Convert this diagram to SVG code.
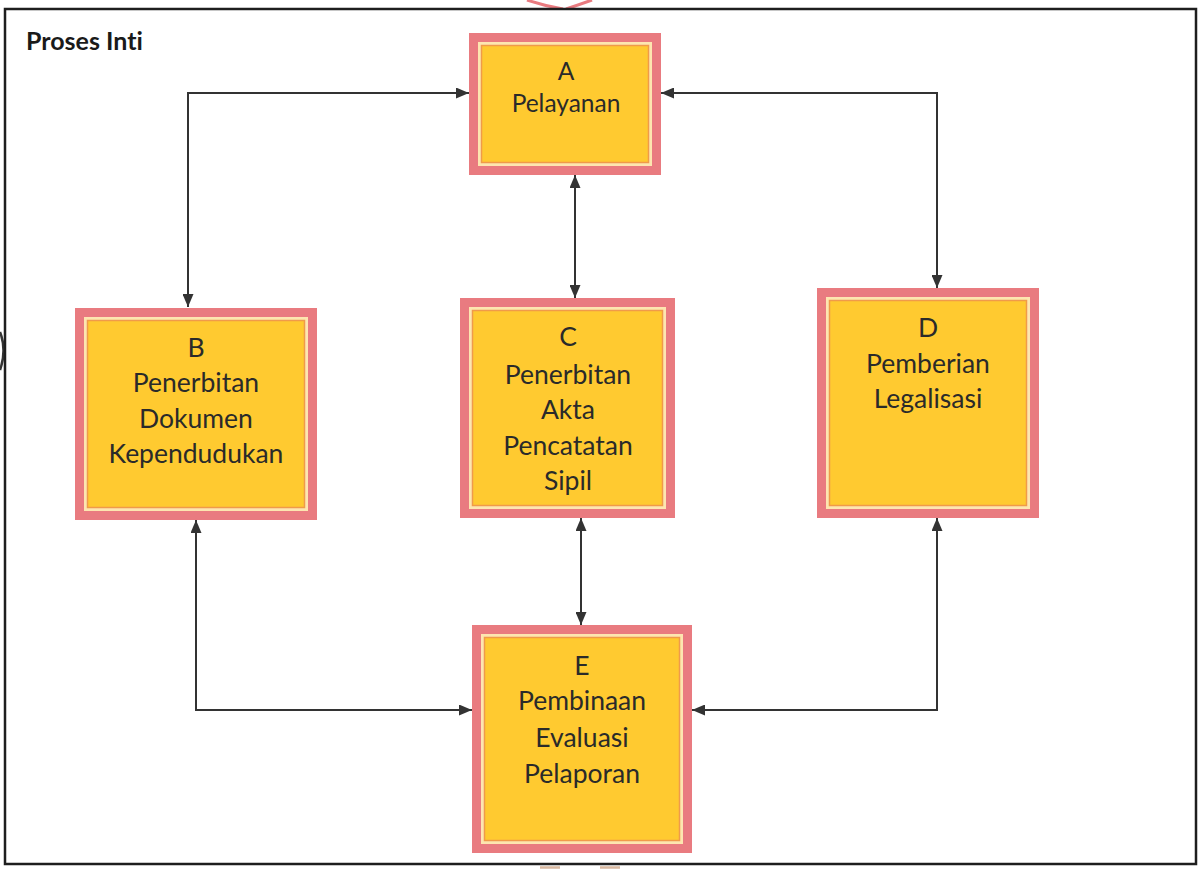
<svg xmlns="http://www.w3.org/2000/svg" width="1202" height="870" viewBox="0 0 1202 870">
  <defs>
    <marker id="arr" viewBox="0 0 13 11" refX="13" refY="5.5" markerWidth="13" markerHeight="11" markerUnits="userSpaceOnUse" orient="auto-start-reverse">
      <path d="M0,0 L13,5.5 L0,11 Z" fill="#333333"/>
    </marker>
  </defs>
  <style>
    .frame { fill: #ffffff; stroke: #1e1e1e; stroke-width: 2.5; }
    .title { font-family: Lato, "Liberation Sans", sans-serif; font-weight: bold; font-size: 25px; fill: #1a1a1a; font-variant-ligatures: none; }
    .outer { fill: #e97b80; }
    .cream { fill: #fde6b0; }
    .line { fill: none; stroke: #f09a4a; stroke-width: 1.5; }
    .fill { fill: #ffca30; }
    .label { font-family: Lato, "Liberation Sans", sans-serif; font-size: 26.5px; fill: #2a2a2a; text-anchor: middle; font-variant-ligatures: none; }
    .small { font-size: 24.5px; }
    .conn { fill: none; stroke: #333333; stroke-width: 2; marker-start: url(#arr); marker-end: url(#arr); }
    .deco { fill: none; stroke: #e97b80; stroke-width: 3; }
  </style>

  <!-- partial shapes around the frame edge -->
  <path class="deco" d="M527,0 Q545,6 563,9 M592,0 Q578,5 566,9"/>
  <path d="M0,332 Q7,350 0,370" fill="none" stroke="#333" stroke-width="2.5"/>
  <path d="M540,867.5 L560,867.5 M600,867.5 L620,867.5" stroke="#d8b8a0" stroke-width="2.5"/>

  <rect class="frame" x="5" y="9" width="1191" height="855"/>
  <text class="title" x="26" y="50">Proses Inti</text>

  <g id="connectors">
    <path class="conn" d="M188,307 L188,93 L469,93"/>
    <path class="conn" d="M661,93 L937,93 L937,288"/>
    <path class="conn" d="M575,175 L575,298"/>
    <path class="conn" d="M581,518 L581,625"/>
    <path class="conn" d="M196,520 L196,710 L472,710"/>
    <path class="conn" d="M937,518 L937,710 L692,710"/>
  </g>

  <g id="nodeA">
    <rect class="outer" x="469" y="33" width="192" height="142"/>
    <rect class="cream" x="478" y="42" width="174" height="124"/>
    <rect class="fill" x="481" y="45" width="168" height="118"/>
    <rect class="line" x="481.5" y="45.5" width="167" height="117"/>
    <text class="label small" x="566" y="80">A</text>
    <text class="label small" x="566" y="112">Pelayanan</text>
  </g>

  <g id="nodeB">
    <rect class="outer" x="75" y="308" width="242" height="212"/>
    <rect class="cream" x="84" y="317" width="224" height="194"/>
    <rect class="fill" x="87" y="320" width="218" height="188"/>
    <rect class="line" x="87.5" y="320.5" width="217" height="187"/>
    <text class="label" x="196" y="357">B</text>
    <text class="label" x="196" y="392">Penerbitan</text>
    <text class="label" x="196" y="428">Dokumen</text>
    <text class="label" x="196" y="463">Kependudukan</text>
  </g>

  <g id="nodeC">
    <rect class="outer" x="460" y="298" width="215" height="220"/>
    <rect class="cream" x="469" y="307" width="197" height="202"/>
    <rect class="fill" x="472" y="310" width="191" height="196"/>
    <rect class="line" x="472.5" y="310.5" width="190" height="195"/>
    <text class="label" x="568" y="346">C</text>
    <text class="label" x="568" y="384">Penerbitan</text>
    <text class="label" x="568" y="419">Akta</text>
    <text class="label" x="568" y="455">Pencatatan</text>
    <text class="label" x="568" y="490">Sipil</text>
  </g>

  <g id="nodeD">
    <rect class="outer" x="817" y="288" width="222" height="230"/>
    <rect class="cream" x="826" y="297" width="204" height="212"/>
    <rect class="fill" x="829" y="300" width="198" height="206"/>
    <rect class="line" x="829.5" y="300.5" width="197" height="205"/>
    <text class="label" x="928" y="337">D</text>
    <text class="label" x="928" y="373">Pemberian</text>
    <text class="label" x="928" y="408">Legalisasi</text>
  </g>

  <g id="nodeE">
    <rect class="outer" x="472" y="625" width="220" height="228"/>
    <rect class="cream" x="481" y="634" width="202" height="210"/>
    <rect class="fill" x="484" y="637" width="196" height="204"/>
    <rect class="line" x="484.5" y="637.5" width="195" height="203"/>
    <text class="label" x="582" y="675">E</text>
    <text class="label" x="582" y="710">Pembinaan</text>
    <text class="label" x="582" y="747">Evaluasi</text>
    <text class="label" x="582" y="783">Pelaporan</text>
  </g>
</svg>
